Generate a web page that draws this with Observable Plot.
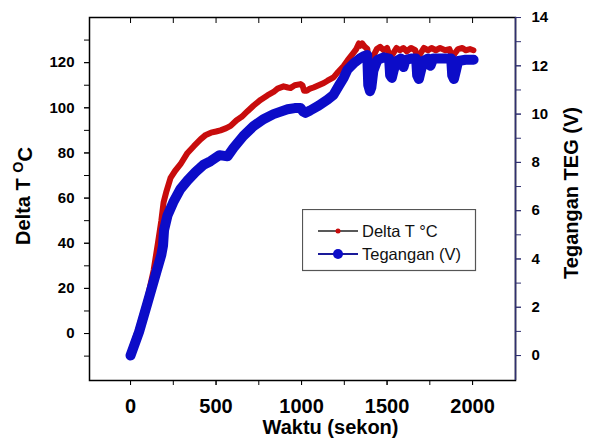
<!DOCTYPE html>
<html><head><meta charset="utf-8">
<script src="https://cdn.jsdelivr.net/npm/d3@7"></script>
<script src="https://cdn.jsdelivr.net/npm/@observablehq/plot@0.6"></script>
<style>
body{margin:0;background:#fff;}
#wrap{position:relative;width:593px;height:439px;background:#fff;}
#legend{position:absolute;left:302px;top:209px;}
</style></head><body><div id="wrap"></div>
<script>
// Delta T series (°C) vs time (s)
const timeT = [0,50,100,135,160,180,193,210,234,260,
  292,333,370,409,440,470,500,526,560,585,
  620,650,684,720,760,800,836,860,895,920,
  936,960,994,1005,1015,1030,1050,1070,1100,1130,
  1152,1187,1215,1246,1269,1300,1320,1335,1345,1355,
  1370,1385,1392,1405,1420,1440,1460,1480,1500,1520,
  1535,1555,1575,1595,1615,1640,1665,1680,1695,1715,
  1740,1760,1785,1810,1840,1865,1883,1895,1915,1940,
  1960,1985,2005];
const deltaT = [-8,3,16,28,40,50,58,63,69,72,
  75,80,83,86,88,89,89.5,90,91,92,
  94.5,96,98.5,101,103.5,105.5,107,108.5,109.5,109,
  108.8,110,110.5,110,107.5,107.5,108.5,109,110,111,
  112,113.5,116,118.5,121,124,126,128.5,127.5,128.5,
  127,126,119,119,123,126,127,125.5,126.5,122,
  124,126.5,125.5,126.5,125,126.5,125.5,121.5,124,126.5,
  125.5,126.5,125.5,126.5,125.5,126,122,124,126,126.5,
  125.5,126,125.5];
// Tegangan series (V) vs time (s)
const timeV = [0,50,100,150,180,190,196,216,250,292,
  333,380,427,468,520,567,602,660,719,780,
  836,918,960,994,1010,1023,1050,1100,1152,1187,
  1220,1246,1269,1304,1340,1363,1384,1390,1400,1408,1420,
  1444,1480,1512,1518,1528,1540,1555,1580,1596,1608,1640,
  1670,1676,1686,1698,1712,1740,1754,1770,1842,1875,1881,
  1891,1903,1916,1959,2006];
const voltage = [0,0.98,2.2,3.43,4.17,4.55,5.2,5.8,6.35,6.9,
  7.25,7.6,7.9,8.05,8.3,8.25,8.6,9.1,9.5,9.8,
  10.0,10.2,10.25,10.25,10.1,10.05,10.15,10.35,10.6,10.8,
  11.2,11.5,11.85,12.1,12.3,12.4,12.45,11.2,10.95,11.1,11.8,
  12.25,12.35,12.3,11.6,11.5,11.85,12.2,12.3,11.95,12.25,12.3,
  12.3,11.6,11.45,11.8,12.2,12.3,12.0,12.3,12.3,12.3,11.6,
  11.45,11.8,12.2,12.25,12.25];

const xTicks = [0,500,1000,1500,2000];
const xMinor = [0,250,500,750,1000,1250,1500,1750,2000];
const yLeftTicks = [0,20,40,60,80,100,120];
const yLeftMinor = [-10,0,10,20,30,40,50,60,70,80,90,100,110,120,130];
const yRightTicks = [0,2,4,6,8,10,12,14];
const yRightMinor = [0,1,2,3,4,5,6,7,8,9,10,11,12,13,14];
const xLabel = "Waktu (sekon)";
const yLeftLabel = "Delta T OC";
const yRightLabel = "Tegangan TEG (V)";
const legendLabels = ["Delta T \u00B0C", "Tegangan (V)"];

const xDomain = [-240, 2251];
const yDomain = [-20.8, 140];
// right axis (V) mapped onto left scale (°C)
const vToT = v => -9.743 + 10.695 * v;
const tToV = t => (t + 9.743) / 10.695;

const red = "#c80c0c", blue = "#0c0cc8", navy = "#303070";
const font = "Liberation Sans, Arial, Helvetica, sans-serif";

const redData = timeT.map((t, i) => ({t, y: deltaT[i]}));
const blueData = timeV.map((t, i) => ({t, y: vToT(voltage[i])}));

const chart = Plot.plot({
  width: 593, height: 439,
  marginLeft: 89, marginRight: 78, marginTop: 17, marginBottom: 59,
  style: {fontFamily: font, background: "white", color: "black"},
  x: {domain: xDomain},
  y: {domain: yDomain},
  marks: [
    Plot.line(redData, {x: "t", y: "y", stroke: red, strokeWidth: 6, strokeLinejoin: "round", strokeLinecap: "round"}),
    Plot.line(blueData, {x: "t", y: "y", stroke: blue, strokeWidth: 10, strokeLinejoin: "round", strokeLinecap: "round"}),
    Plot.frame({stroke: "black", strokeWidth: 1.5}),
    Plot.ruleX([xDomain[1]], {stroke: navy, strokeWidth: 1.5}),
    // left axis
    Plot.axisY({anchor: "left", ticks: yLeftMinor, tickSize: 5, tickFormat: () => "", label: null}),
    Plot.axisY({anchor: "left", ticks: yLeftTicks, tickSize: 5, tickPadding: 10, fontSize: 15, fontWeight: "bold", tickFormat: d => String(d), label: null}),
    // right axis
    Plot.axisY({anchor: "right", ticks: yRightMinor.map(vToT), tickSize: 5, stroke: navy, tickFormat: () => "", label: null}),
    Plot.axisY({anchor: "right", ticks: yRightTicks.map(vToT), tickSize: 5, tickPadding: 11, stroke: navy, fill: "black", fontSize: 15, fontWeight: "bold", tickFormat: d => String(Math.round(tToV(d))), label: null}),
    // bottom axis
    Plot.axisX({anchor: "bottom", ticks: xMinor, tickSize: 5, tickFormat: () => "", label: null}),
    Plot.axisX({anchor: "bottom", ticks: xTicks, tickSize: 5, tickPadding: 13, fontSize: 20, fontWeight: "bold", tickFormat: d => String(d), label: null}),
    // top ticks (inward)
    Plot.axisX({anchor: "top", ticks: xMinor, tickSize: 5, dy: 5, tickFormat: () => "", label: null}),
    // axis titles
    Plot.text([xLabel], {frameAnchor: "bottom", text: d => d, dx: 28, dy: 47, lineAnchor: "middle", textAnchor: "middle", fontSize: 20, fontWeight: "bold"}),
    Plot.text([yLeftLabel], {frameAnchor: "left", text: d => d, rotate: -90, dx: -66, dy: -3, lineAnchor: "middle", textAnchor: "middle", fontSize: 20, fontWeight: "bold"}),
    Plot.text([yRightLabel], {frameAnchor: "right", text: d => d, rotate: -90, dx: 56, dy: -6, lineAnchor: "middle", textAnchor: "middle", fontSize: 20, fontWeight: "bold"})
  ]
});

// superscript O in left title
d3.select(chart).selectAll("text").filter(function(){ return this.textContent === yLeftLabel; })
  .each(function(){
    const t = d3.select(this);
    t.text("");
    t.append("tspan").text("Delta T ");
    t.append("tspan").attr("font-size", "0.72em").attr("dy", "-0.45em").text("O");
    t.append("tspan").attr("dy", "0.45em").text("C");
  });
d3.select(chart).selectAll("text").style("font-family", font);

const wrap = document.getElementById("wrap");
wrap.appendChild(chart);

// legend inside plot area
const lg = d3.select(wrap).append("svg").attr("id", "legend")
  .attr("width", 175).attr("height", 63);
lg.append("rect").attr("x", 0.5).attr("y", 0.5).attr("width", 173).attr("height", 61)
  .attr("fill", "white").attr("stroke", "#555").attr("stroke-width", 1.2);
const rows = [
  {label: legendLabels[0], line: "#222", dot: red, r: 2.5, w: 1.6, y: 22},
  {label: legendLabels[1], line: "#1a1a99", dot: blue, r: 5, w: 2, y: 45}
];
rows.forEach(r => {
  lg.append("line").attr("x1", 16).attr("x2", 56).attr("y1", r.y).attr("y2", r.y)
    .attr("stroke", r.line).attr("stroke-width", r.w);
  lg.append("circle").attr("cx", 36).attr("cy", r.y).attr("r", r.r).attr("fill", r.dot);
  lg.append("text").attr("x", 60).attr("y", r.y).attr("dy", "0.35em")
    .attr("font-family", font).attr("font-size", 16.5).attr("fill", "#111").text(r.label);
});
</script>
</body></html>
